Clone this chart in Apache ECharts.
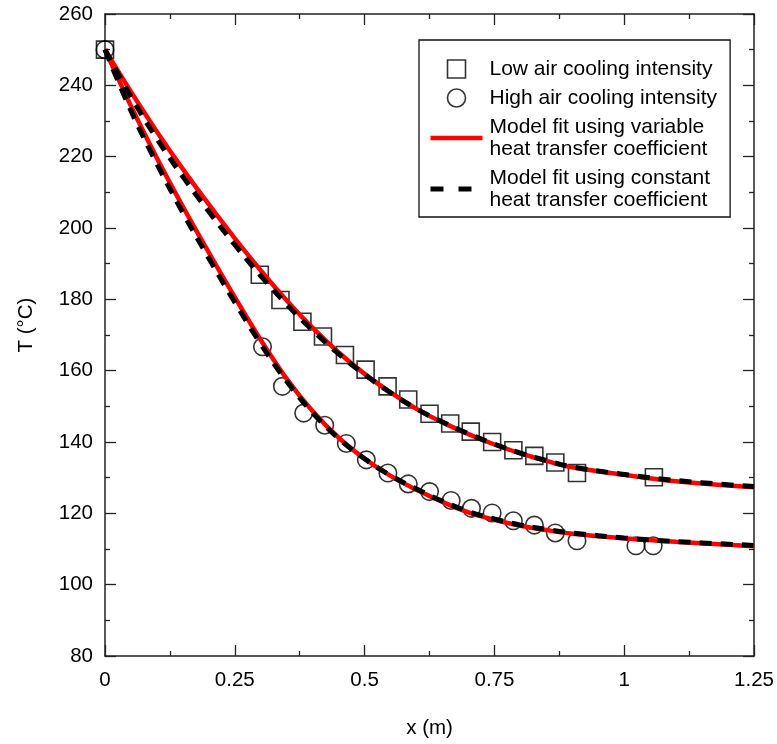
<!DOCTYPE html>
<html>
<head>
<meta charset="utf-8">
<script src="https://cdn.jsdelivr.net/npm/echarts@6/dist/echarts.min.js"></script>
<style>
html,body{margin:0;padding:0;background:#fff;}
#chart{width:777px;height:744px;}
</style>
</head>
<body>
<div id="chart"></div>
<script>
// ---- data ----
const lowX = [0, 0.2981, 0.3379, 0.3802, 0.4198, 0.4621, 0.5019, 0.5442, 0.584, 0.625, 0.6648, 0.7044, 0.7456, 0.7865, 0.8269, 0.8673, 0.909, 1.0571];
const lowT = [250, 186.9, 179.8, 173.7, 169.6, 164.4, 160.3, 155.6, 151.9, 147.9, 145.2, 142.9, 140.0, 137.7, 136.1, 134.25, 131.3, 130.1];

const highX = [0, 0.3033, 0.3417, 0.3827, 0.4231, 0.4648, 0.5033, 0.5448, 0.584, 0.625, 0.6667, 0.7058, 0.7456, 0.7865, 0.8269, 0.8673, 0.909, 1.0225, 1.0558];
const highT = [250, 166.7, 155.6, 148.1, 144.7, 139.6, 135.0, 131.3, 128.25, 126.1, 123.6, 121.4, 120.1, 117.9, 116.7, 114.5, 112.3, 110.9, 110.9];

const modelX = [0, 0.05, 0.1, 0.15, 0.2, 0.25, 0.3, 0.35, 0.4, 0.45, 0.5, 0.55, 0.6, 0.65, 0.7, 0.75, 0.8, 0.85, 0.9, 1.0, 1.1, 1.25];
const lowVariable  = [250, 238.2, 227.0, 216.5, 206.6, 197.1, 188.1, 179.7, 172.0, 165.1, 159.1, 153.9, 149.3, 145.5, 142.2, 139.3, 136.8, 134.7, 132.9, 130.8, 129.0, 127.3];
const lowConstant  = [250, 236.8, 225.0, 214.4, 204.6, 195.3, 186.6, 178.6, 171.3, 164.7, 158.9, 153.8, 149.3, 145.6, 142.3, 139.4, 136.9, 134.8, 133.0, 130.9, 129.2, 127.5];
const highVariable = [250, 234.2, 219.6, 206.0, 193.1, 180.6, 168.6, 157.7, 148.6, 141.2, 135.3, 130.5, 126.6, 123.2, 120.3, 118.2, 116.5, 115.3, 114.3, 113.0, 112.0, 110.8];
const highConstant = [250, 232.9, 218.0, 204.3, 191.5, 179.2, 167.5, 157.0, 148.2, 141.0, 135.3, 130.6, 126.8, 123.4, 120.5, 118.4, 116.7, 115.5, 114.5, 113.1, 112.1, 111.0];

const xTicks = [0, 0.25, 0.5, 0.75, 1, 1.25];
const yTicks = [80, 100, 120, 140, 160, 180, 200, 220, 240, 260];

const names = {
  low: 'Low air cooling intensity',
  high: 'High air cooling intensity',
  variable: 'Model fit using variable\nheat transfer coefficient',
  constant: 'Model fit using constant\nheat transfer coefficient'
};

// ---- build ----
const zip = (xs, ys) => xs.map((x, i) => [x, ys[i]]);
const FONT = '"Liberation Sans", Arial, sans-serif';
const AXIS_COLOR = '#222';

function xAxisDef(pos, showLabel) {
  return {
    type: 'value', position: pos,
    min: xTicks[0], max: xTicks[xTicks.length - 1], interval: 0.25,
    axisLine: {show: true, onZero: false, lineStyle: {color: AXIS_COLOR, width: 1.5}},
    axisTick: {show: true, inside: true, length: 11, lineStyle: {color: AXIS_COLOR, width: 1.3}},
    minorTick: {show: true, splitNumber: 2, length: 5, lineStyle: {color: AXIS_COLOR, width: 1.3}},
    splitLine: {show: false},
    axisLabel: {show: showLabel, color: '#000', fontSize: 20.5, fontFamily: FONT, margin: 14},
    name: showLabel ? 'x (m)' : '',
    nameLocation: 'middle', nameGap: 62,
    nameTextStyle: {color: '#000', fontSize: 20.5, fontFamily: FONT}
  };
}
function yAxisDef(pos, showLabel) {
  return {
    type: 'value', position: pos,
    min: yTicks[0], max: yTicks[yTicks.length - 1], interval: 20,
    axisLine: {show: true, onZero: false, lineStyle: {color: AXIS_COLOR, width: 1.5}},
    axisTick: {show: true, inside: true, length: 11, lineStyle: {color: AXIS_COLOR, width: 1.3}},
    minorTick: {show: true, splitNumber: 2, length: 5, lineStyle: {color: AXIS_COLOR, width: 1.3}},
    splitLine: {show: false},
    axisLabel: {show: showLabel, color: '#000', fontSize: 20.5, fontFamily: FONT, margin: 12},
    name: showLabel ? 'T (°C)' : '',
    nameLocation: 'middle', nameGap: 68,
    nameTextStyle: {color: '#000', fontSize: 20.5, fontFamily: FONT, padding: [0, 0, 0, 20]}
  };
}

const squareIcon = 'path://M0,0L10,0L10,10L0,10Z';

const chart = echarts.init(document.getElementById('chart'), null, {renderer: 'canvas'});
chart.setOption({
  animation: false,
  backgroundColor: '#fff',
  grid: {left: 105, right: 22, top: 14, bottom: 82, containLabel: false},
  xAxis: [xAxisDef('bottom', true), xAxisDef('top', false)],
  yAxis: [yAxisDef('left', true), yAxisDef('right', false)],
  legend: {
    orient: 'vertical', left: 419, top: 40,
    padding: [18, 13, 6, 9],
    itemGap: 7, itemWidth: 52, itemHeight: 18,
    borderColor: '#111', borderWidth: 1.3,
    backgroundColor: '#fff',
    symbolKeepAspect: true,
    textStyle: {color: '#000', fontSize: 21, fontFamily: FONT, lineHeight: 22, padding: [0, 0, 0, 2]},
    data: [
      {name: names.low, icon: squareIcon, itemStyle: {color: 'rgba(255,255,255,0)', borderColor: '#000', borderWidth: 1.6}},
      {name: names.high, itemStyle: {color: 'rgba(255,255,255,0)', borderColor: '#000', borderWidth: 1.6}},
      {name: names.variable, itemStyle: {opacity: 0}, lineStyle: {color: '#ff0000', width: 4.5}},
      {name: names.constant, itemStyle: {opacity: 0}, lineStyle: {color: '#000', width: 5, type: [13, 15]}}
    ]
  },
  series: [
    {
      name: names.low, type: 'scatter', symbol: 'rect', symbolSize: 17,
      itemStyle: {color: 'rgba(255,255,255,0)', borderColor: '#000', borderWidth: 1.6},
      data: zip(lowX, lowT), z: 2
    },
    {
      name: names.high, type: 'scatter', symbol: 'circle', symbolSize: 17.5,
      itemStyle: {color: 'rgba(255,255,255,0)', borderColor: '#000', borderWidth: 1.6},
      data: zip(highX, highT), z: 2
    },
    {
      name: names.variable, type: 'line', symbol: 'none', smooth: 0.4,
      lineStyle: {color: '#ff0000', width: 4.5},
      itemStyle: {color: '#ff0000'},
      data: zip(modelX, lowVariable), z: 3
    },
    {
      name: names.variable, type: 'line', symbol: 'none', smooth: 0.4,
      lineStyle: {color: '#ff0000', width: 4.5},
      itemStyle: {color: '#ff0000'},
      data: zip(modelX, highVariable), z: 3
    },
    {
      name: names.constant, type: 'line', symbol: 'none', smooth: 0.4,
      lineStyle: {color: '#000', width: 5, type: [12, 9]},
      itemStyle: {color: '#000'},
      data: zip(modelX, lowConstant), z: 4
    },
    {
      name: names.constant, type: 'line', symbol: 'none', smooth: 0.4,
      lineStyle: {color: '#000', width: 5, type: [12, 9]},
      itemStyle: {color: '#000'},
      data: zip(modelX, highConstant), z: 4
    }
  ]
});
</script>
</body>
</html>
